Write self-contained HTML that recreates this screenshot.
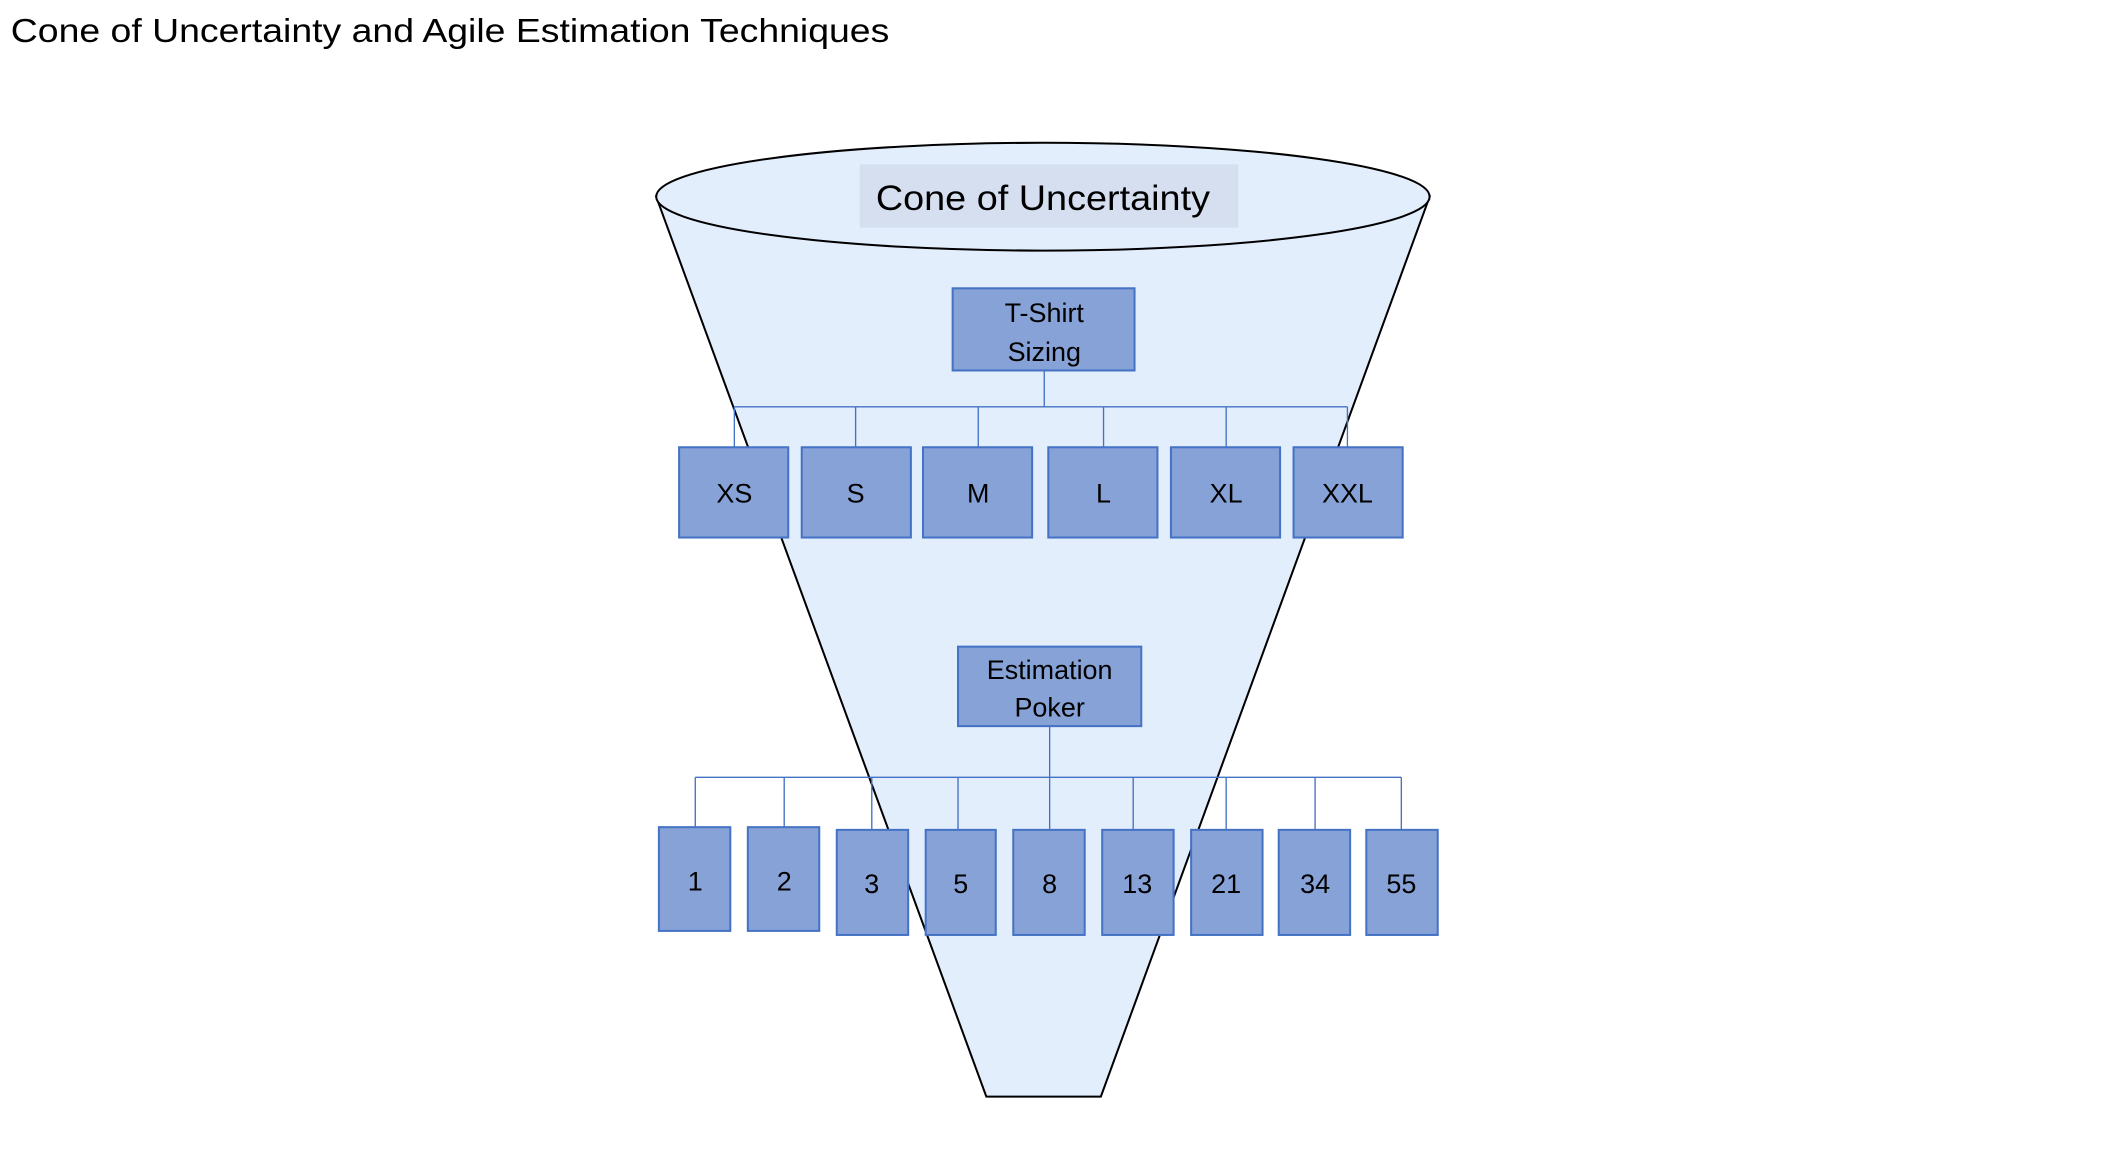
<!DOCTYPE html>
<html><head><meta charset="utf-8"><style>
html,body{margin:0;padding:0;background:#fff;}
svg{display:block;}
text{font-family:"Liberation Sans",sans-serif;fill:#000;}
</style></head><body>
<svg width="2102" height="1168" viewBox="0 0 1560 867" preserveAspectRatio="none">
<text x="8" y="31" font-size="25" textLength="652" lengthAdjust="spacingAndGlyphs">Cone of Uncertainty and Agile Estimation Techniques</text>
<path d="M487,146 L732,814 L817,814 L1061,146 Z" fill="#e3eefc" stroke="#000" stroke-width="1.5"/>
<ellipse cx="774" cy="146" rx="287" ry="40" fill="#e3eefc" stroke="#000" stroke-width="1.5"/>
<rect x="638" y="122" width="281" height="47" fill="#d5dff0"/>
<text x="774" y="156" font-size="26" text-anchor="middle" textLength="248" lengthAdjust="spacingAndGlyphs">Cone of Uncertainty</text>
<g stroke="#4472c4" stroke-width="1" fill="none">
<path d="M775,275 V302 M545,302 H1000 M545,302 V332 M635,302 V332 M726,302 V332 M819,302 V332 M910,302 V332 M1000,302 V332"/>
<path d="M779,539 V577 M516,577 H1040 M516,577 V614 M582,577 V614 M647,577 V616 M711,577 V616 M779,577 V616 M841,577 V616 M910,577 V616 M976,577 V616 M1040,577 V616"/>
</g>
<g fill="#87a2d6" stroke="#4472c4" stroke-width="1.5">
<rect x="707" y="214" width="135" height="61"/>
<rect x="711" y="480" width="136" height="59"/>
<rect x="504" y="332" width="81" height="67"/>
<rect x="595" y="332" width="81" height="67"/>
<rect x="685" y="332" width="81" height="67"/>
<rect x="778" y="332" width="81" height="67"/>
<rect x="869" y="332" width="81" height="67"/>
<rect x="960" y="332" width="81" height="67"/>
<rect x="489" y="614" width="53" height="77"/>
<rect x="555" y="614" width="53" height="77"/>
<rect x="621" y="616" width="53" height="78"/>
<rect x="687" y="616" width="52" height="78"/>
<rect x="752" y="616" width="53" height="78"/>
<rect x="818" y="616" width="53" height="78"/>
<rect x="884" y="616" width="53" height="78"/>
<rect x="949" y="616" width="53" height="78"/>
<rect x="1014" y="616" width="53" height="78"/>
</g>
<g font-size="20" text-anchor="middle">
<text x="775" y="239">T-Shirt</text><text x="775" y="268">Sizing</text>
<text x="779" y="504">Estimation</text><text x="779" y="532">Poker</text>
<text x="545" y="373">XS</text><text x="635" y="373">S</text><text x="726" y="373">M</text>
<text x="819" y="373">L</text><text x="910" y="373">XL</text><text x="1000" y="373">XXL</text>
<text x="516" y="661">1</text><text x="582" y="661">2</text><text x="647" y="663">3</text>
<text x="713" y="663">5</text><text x="779" y="663">8</text><text x="844" y="663">13</text>
<text x="910" y="663">21</text><text x="976" y="663">34</text><text x="1040" y="663">55</text>
</g>
</svg>
</body></html>
